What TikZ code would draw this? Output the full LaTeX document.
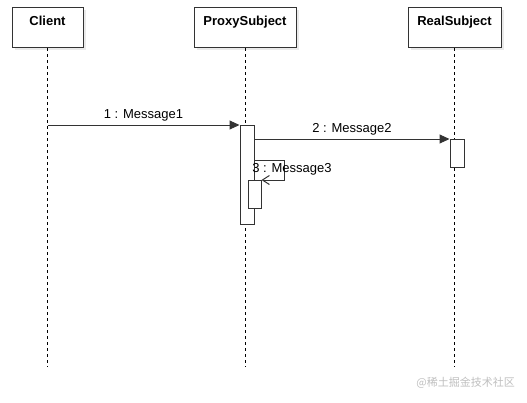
\documentclass[tikz,border=0pt]{standalone}
\usepackage{fontspec}
\setmainfont{Liberation Sans}
\newfontfamily\cjkfont{Noto Sans CJK SC}
\usetikzlibrary{positioning}
\usetikzlibrary{arrows.meta}
\definecolor{umlline}{HTML}{333333}
\definecolor{umlshadow}{HTML}{EAEAEA}

\begin{document}
\begin{tikzpicture}[x=1pt, y=-1pt,
objbox/.style={rectangle, draw=umlline, fill=white, line width=1pt, minimum height=40pt, inner sep=3pt, text height=15pt, text depth=19pt, font=\fontsize{13}{15}\selectfont\bfseries, anchor=north},
actbox/.style={rectangle, draw=umlline, fill=white, line width=1pt, minimum width=14pt, anchor=north, inner sep=0pt},
lifeline/.style={draw=black, dashed, dash pattern=on 3pt off 3pt, line width=0.7pt},
msg/.style={draw=umlline, line width=1pt, -{Triangle[length=10pt, width=9pt]}},
selfmsg/.style={draw=umlline, line width=1pt, -{Straight Barb[length=7pt, width=9pt]}},
msglabel/.style={font=\fontsize{13}{15}\selectfont, inner sep=1pt},
]
\useasboundingbox (0,0) rectangle (527,402);

%Shadows
\fill[umlshadow] (15,10) rectangle (86,50);
\fill[umlshadow] (197,10) rectangle (299,50);
\fill[umlshadow] (411,10) rectangle (504,50);

%Objects
\node[objbox, minimum width=71pt]  (client) at (47.5,7)  {Client};
\node[objbox, minimum width=102pt] (proxy)  at (245,7)   {ProxySubject};
\node[objbox, minimum width=93pt]  (real)   at (454.5,7) {RealSubject};

%Lifelines
\coordinate (clientend) at (client.south |- 0,367);
\coordinate (proxyend)  at (proxy.south |- 0,367);
\coordinate (realend)   at (real.south |- 0,367);
\draw[lifeline] (client.south) -- (clientend);
\draw[lifeline] (proxy.south)  -- (proxyend);
\draw[lifeline] (real.south)   -- (realend);

%Activations
\node[actbox, minimum height=99pt] (act1) at (247,125) {};
\node[actbox, minimum height=28pt] (act2) at (457,139) {};
\node[actbox, minimum height=28pt, minimum width=13pt] (act3) at (254.5,180) {};

%Messages
\coordinate (m1) at (client.south |- act1.north);
\draw[msg] (m1) -- (act1.north west) node[msglabel, midway, above=2pt] {1 : Message1};
\coordinate (m2) at (act1.east |- act2.north);
\draw[msg] (m2) -- (act2.north west) node[msglabel, midway, above=2pt] {2 : Message2};
\coordinate (m3) at (act1.east |- 0,160);
\draw[selfmsg] (m3) -- (284,160) -- (284,180) -- (act3.north east);
\node[msglabel] (m3label) at (292,169) {3 : Message3};

%Watermark
\node[font=\cjkfont\fontsize{11}{13}\selectfont, text=black!25, anchor=east, inner sep=0pt] (mark) at (515,383) {@稀土掘金技术社区};
\end{tikzpicture}
\end{document}
